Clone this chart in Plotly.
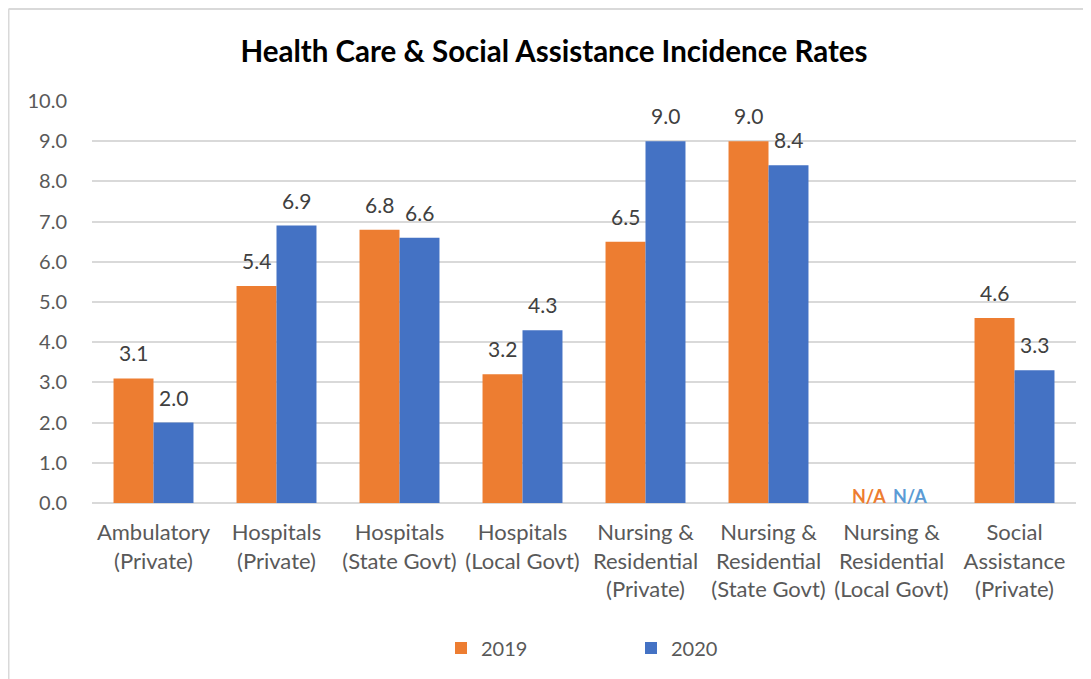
import plotly.graph_objects as go

categories = ["Ambulatory<br>(Private)", "Hospitals<br>(Private)", "Hospitals<br>(State Govt)",
              "Hospitals<br>(Local Govt)", "Nursing &<br>Residential<br>(Private)",
              "Nursing &<br>Residential<br>(State Govt)", "Nursing &<br>Residential<br>(Local Govt)",
              "Social<br>Assistance<br>(Private)"]
values_2019 = [3.1, 5.4, 6.8, 3.2, 6.5, 9.0, None, 4.6]
values_2020 = [2.0, 6.9, 6.6, 4.3, 9.0, 8.4, None, 3.3]
na_labels = ["", "", "", "", "", "", "N/A", ""]
y_ticks = [0, 1, 2, 3, 4, 5, 6, 7, 8, 9, 10]

OFF = 8  # page body margin
W, H = 1091 - OFF, 679 - OFF
ml, mr, mt = 92 - OFF, 15, 101 - OFF
ph = 402
mb = H - mt - ph
pw = W - ml - mr
FONT = "Lato, Liberation Sans, sans-serif"
LABEL = dict(size=21, color="#404040", family=FONT)

fig = go.Figure()
fig.add_trace(go.Bar(name="2019", x=categories, y=values_2019, marker_color="#ED7D31",
                     marker_line_width=0))
fig.add_trace(go.Bar(name="2020", x=categories, y=values_2020, marker_color="#4472C4",
                     marker_line_width=0))

half = 20
for series, shift in ((values_2019, -half), (values_2020, half)):
    for c, v in zip(categories, series):
        if v is None:
            continue
        fig.add_annotation(x=c, y=v, text=f"{v:.1f}", showarrow=False, xshift=shift,
                           yanchor="bottom", yshift=11, font=LABEL)

for c, t in zip(categories, na_labels):
    if t:
        fig.add_annotation(x=c, y=0, text=f"<b>{t}</b>", showarrow=False, xshift=-23, yshift=7,
                           font=dict(size=18, color="#ED7D31", family=FONT))
        fig.add_annotation(x=c, y=0, text=f"<b>{t}</b>", showarrow=False, xshift=18, yshift=7,
                           font=dict(size=18, color="#5B9BD5", family=FONT))

# chart frame (top and left edges)
fx0 = (0.5 - ml) / pw
fy1 = 1 + (mt - 1) / ph
fig.add_shape(type="line", xref="paper", yref="paper", x0=fx0, x1=(W - ml) / pw + 0.01,
              y0=fy1, y1=fy1, line=dict(color="#D9D9D9", width=2), layer="below")
fig.add_shape(type="line", xref="paper", yref="paper", x0=fx0, x1=fx0,
              y0=fy1, y1=-(mb + 5) / ph, line=dict(color="#D9D9D9", width=2), layer="below")

fig.update_layout(
    width=W, height=H,
    margin=dict(l=ml, r=mr, t=mt, b=mb, autoexpand=False),
    paper_bgcolor="white", plot_bgcolor="white",
    barmode="group", bargap=0.35, bargroupgap=0,
    title=dict(text="<b>Health Care & Social Assistance Incidence Rates</b>",
               x=(554 - OFF) / W, xref="container", xanchor="center",
               y=1 - 44 / H, yanchor="middle",
               font=dict(size=29.5, color="black", family=FONT)),
    font=dict(family=FONT, color="#595959", size=20),
    yaxis=dict(range=[0, 10], tickvals=y_ticks, tickformat=".1f",
               showgrid=True, gridcolor="#D9D9D9", gridwidth=1.5,
               zeroline=True, zerolinecolor="#D9D9D9", zerolinewidth=1.5,
               tickfont=dict(size=20, color="#595959"), ticks="",
               ticklabelstandoff=24, fixedrange=True),
    xaxis=dict(showline=False, tickfont=dict(size=22, color="#595959"), ticks="",
               ticklabelstandoff=14, fixedrange=True),
    legend=dict(orientation="h", x=(441 - OFF - ml) / pw, xanchor="left",
                y=-(648 - OFF - mt - ph) / ph, yanchor="middle",
                font=dict(size=20, color="#595959"), entrywidth=145, traceorder="normal"),
    showlegend=True,
)

fig.write_html("out.html")
